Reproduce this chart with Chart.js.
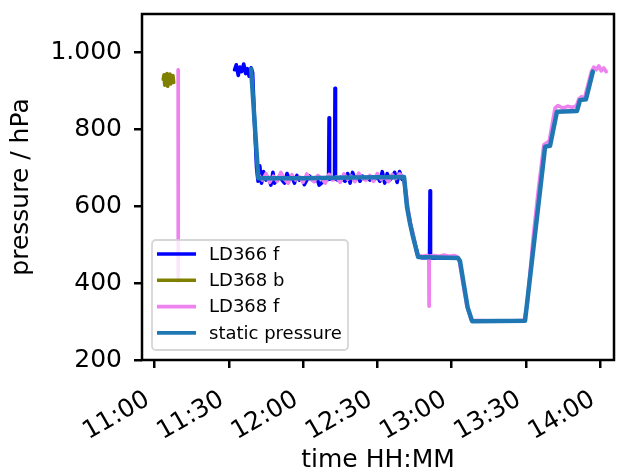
<!DOCTYPE html>
<html>
<head>
<meta charset="utf-8">
<script src="https://cdn.jsdelivr.net/npm/chart.js@4.4.1/dist/chart.umd.min.js"></script>
<style>
  body { margin: 0; background: #fff; }
  canvas { display: block; }
</style>
</head>
<body>
<canvas id="myChart" width="619" height="472" style="width:619px;height:472px"></canvas>
<script>
// time in minutes after 11:00, pressure in hPa
var ld366fTimes = [32.3, 33, 33.8, 34.5, 35.2, 36, 36.8, 37.5, 38.2, 39, 39.6, 40.5, 41.2, 41.8,
    42.5, 43.2, 44, 45, 46, 47, 47.8, 48.5, 49.5, 50.5, 51.5, 52.5, 53.5, 54.5, 55.5, 56.5, 57.5, 58.5, 59.5,
    60.5, 61.5, 62.5, 63.5, 64.5, 65.5, 66.5, 67.5, 68.5, 69.5, 70.3, 70.5, 70.7, 71.5, 72.7, 72.9, 73.1,
    74, 75, 76, 77, 78, 79, 80, 81, 82, 83, 84, 85, 86, 87, 88, 89, 90, 91, 92, 93, 94, 95, 96, 97, 98, 99,
    100, 100.8, 102, 103.2, 104.3, 106.5, 108, 110, 111.1, 111.3, 111.5, 113, 115, 118];
var ld366fValues = [955, 968, 940, 962, 950, 970, 945, 958, 938, 960, 948, 800, 700, 665,
    705, 660, 690, 668, 675, 655, 688, 660, 672, 678, 668, 660, 685, 670, 676, 660, 680, 668, 674,
    656, 668, 679, 672, 665, 675, 655, 660, 673, 668, 670, 830, 670, 672, 670, 907, 671,
    668, 675, 670, 665, 685, 660, 688, 670, 676, 665, 678, 670, 673, 668, 676, 670, 680, 665, 690, 660,
    685, 668, 675, 688, 662, 690,
    670, 672, 600, 558, 526, 470, 466, 467, 466, 640, 466, 465, 466, 465];

var ld368bTimes = [3.5, 3.8, 4.1, 4.4, 4.7, 5, 5.3, 5.6, 5.9, 6.2, 6.5, 6.8, 7.1, 7.4, 7.7];
var ld368bValues = [930, 942, 915, 938, 922, 945, 912, 935, 920, 944, 918, 936, 925, 940, 922];

var ld368fTimes = [9.5, 9.55, 20,
    42.2, 43.5, 45, 46.5, 48, 49.5, 51, 52.5, 54, 55.5, 57, 58.5, 60, 61.5, 63, 64.5, 66, 67.5, 69, 70.5,
    72, 73.5, 75, 76.5, 78, 79.5, 81, 82.5, 84, 85.5, 87, 88.5, 90, 91.5, 93, 94.5, 96, 97.5, 99, 100.5,
    101.5, 102.5, 103.5, 104.8, 106, 107, 108.5, 110, 110.8, 110.9, 111, 113, 115, 117, 119, 121, 122.4,
    123.2, 124.6, 126.2, 128, 135, 142, 149.3, 150.5, 153, 155, 157.3, 158.5, 159.5, 161.8, 163, 165, 167,
    169, 170.5, 171.5, 172.5, 173.5, 174, 176.5, 177.5, 178.5, 179.5, 180.5, 181.5, 182.5];
var ld368fValues = [955, 405, null,
    680, 668, 685, 662, 678, 665, 688, 670, 660, 682, 668, 676, 662, 684, 670, 664, 680, 672, 660, 683,
    668, 676, 662, 684, 670, 678, 664, 686, 672, 668, 680, 665, 685, 670, 676, 664, 682, 672, 684, 676,
    640, 590, 552, 520, 475, 472, 470, 472, 470, 340, 470, 472, 470, 473, 470, 472, 468,
    455, 400, 340, 303, 302, 301, 303, 340, 520, 640, 760, 765, 770, 855, 862, 855, 860,
    857, 862, 880, 885, 882, 888, 950, 962, 955, 965, 952, 960, 950];

var staticTimes = [39.0, 41.9, 60, 80, 100.8, 102.0, 103.2, 104.3, 106.5, 122.6, 123.4, 124.9, 126.5, 128.3,
    149.7, 157.8, 159.8, 162.6, 170.7, 171.9, 174.3, 177.1];
var staticValues = [957, 673, 673, 675, 676, 598, 556, 524, 468, 465, 458, 399, 337, 301,
    302, 755, 757, 846, 848, 876, 878, 950];

var xTicks = [0, 30, 60, 90, 120, 150, 180];
var yTicks = [200, 400, 600, 800, 1000];

function pts(ts, vs) {
    return ts.map(function (t, i) { return {x: t, y: vs[i]}; });
}

function hhmm(m) {
    var h = 11 + Math.floor(m / 60), mm = Math.round(m % 60);
    return h + ':' + (mm < 10 ? '0' + mm : mm);
}

function thousands(v) {
    if (v < 1000) return '' + v;
    var r = v % 1000;
    return Math.floor(v / 1000) + '.' + ('00' + r).slice(-3);
}

var font = "'DejaVu Sans', sans-serif";

// rahmen um die achsen
var frame = {
    id: 'frame',
    afterDatasetsDraw: function (chart) {
        var c = chart.ctx, a = chart.chartArea;
        c.save();
        c.strokeStyle = '#000';
        c.lineWidth = 2.5;
        c.strokeRect(a.left, a.top, a.right - a.left, a.bottom - a.top);
        c.restore();
    }
};

// legende unten links im plot
var boxLegend = {
    id: 'boxLegend',
    afterDraw: function (chart) {
        var c = chart.ctx, a = chart.chartArea;
        var x0 = a.left + 10, y0 = a.bottom - 120, w = 196, h = 110;
        c.save();
        c.beginPath();
        c.roundRect(x0, y0, w, h, 4);
        c.fillStyle = 'rgba(255,255,255,0.8)';
        c.fill();
        c.strokeStyle = 'rgba(204,204,204,0.8)';
        c.lineWidth = 1.8;
        c.stroke();
        c.font = '18px ' + font;
        c.textBaseline = 'middle';
        c.fillStyle = '#000';
        chart.data.datasets.forEach(function (ds, i) {
            var y = y0 + 14 + i * 26.3;
            c.beginPath();
            c.moveTo(x0 + 5, y);
            c.lineTo(x0 + 44, y);
            c.strokeStyle = ds.borderColor;
            c.lineWidth = 3.6;
            c.stroke();
            c.fillText(ds.label, x0 + 57, y + 1);
        });
        c.restore();
    }
};

var ctx = document.getElementById("myChart").getContext("2d");
var myChart = new Chart(ctx, {
    type: 'line',
    data: {
        datasets: [
            {label: 'LD366 f', data: pts(ld366fTimes, ld366fValues), borderColor: '#0000ff', borderWidth: 3.6, order: 3},
            {label: 'LD368 b', data: pts(ld368bTimes, ld368bValues), borderColor: '#808000', borderWidth: 3.6, order: 2},
            {label: 'LD368 f', data: pts(ld368fTimes, ld368fValues), borderColor: '#ee82ee', borderWidth: 3.6, order: 1},
            {label: 'static pressure', data: pts(staticTimes, staticValues), borderColor: '#1f77b4', borderWidth: 4.5, order: 0}
        ]
    },
    options: {
        responsive: false,
        animation: false,
        devicePixelRatio: 1,
        elements: {
            point: {radius: 0, hoverRadius: 0},
            line: {tension: 0, borderJoinStyle: 'round', borderCapStyle: 'round', fill: false}
        },
        layout: {padding: {left: 0, right: 5, top: 14, bottom: 0}},
        plugins: {legend: {display: false}, tooltip: {enabled: false}},
        scales: {
            x: {
                type: 'linear',
                min: -5.1,
                max: 185.65,
                afterBuildTicks: function (s) { s.ticks = xTicks.map(function (v) { return {value: v}; }); },
                afterFit: function (s) { s.height = 112; s.paddingLeft = 0; s.paddingRight = 0; },
                ticks: {
                    color: '#000', font: {family: font, size: 25}, padding: 13,
                    minRotation: 30, maxRotation: 30, autoSkip: false,
                    callback: function (v) { return hhmm(v) + ' '; }
                },
                grid: {drawOnChartArea: false, drawTicks: true, tickLength: 8, color: '#000', lineWidth: 2.5},
                border: {display: false},
                title: {display: true, text: 'time HH:MM', color: '#000', font: {family: font, size: 25, lineHeight: 0.9}, padding: {top: 0, bottom: 0}}
            },
            y: {
                min: 200,
                max: 1100,
                afterBuildTicks: function (s) { s.ticks = yTicks.map(function (v) { return {value: v}; }); },
                afterFit: function (s) { s.width = 142; s.paddingTop = 0; s.paddingBottom = 0; },
                ticks: {
                    color: '#000', font: {family: font, size: 25}, padding: 12,
                    callback: function (v) { return thousands(v); }
                },
                grid: {drawOnChartArea: false, drawTicks: true, tickLength: 8, color: '#000', lineWidth: 2.5},
                border: {display: false},
                title: {display: true, text: 'pressure / hPa', color: '#000', font: {family: font, size: 25}, padding: {top: 6, bottom: 0}}
            }
        }
    },
    plugins: [frame, boxLegend]
});
</script>
</body>
</html>
